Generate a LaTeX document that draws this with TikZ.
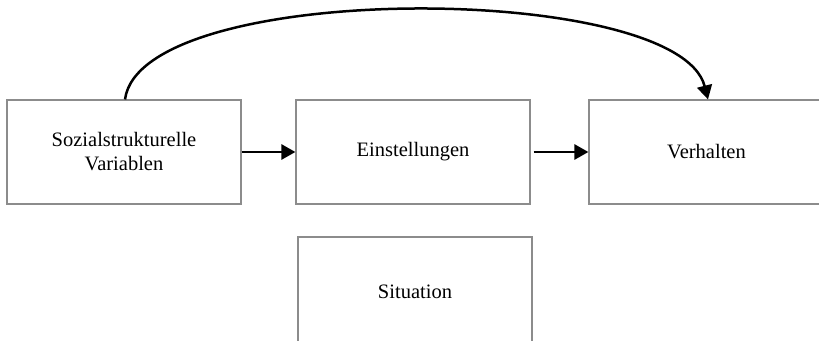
\documentclass[tikz,border=0pt]{standalone}
\usepackage{fontspec}
\setmainfont{Liberation Serif}
\usetikzlibrary{arrows.meta}
\begin{document}
\begin{tikzpicture}[x=1pt,y=-1pt,
  box/.style={draw=black!45, line width=1.2pt, fill=white, inner sep=0pt,
    align=center, font=\fontsize{20.5}{24}\selectfont},
  arr/.style={line width=2.8pt, -{Triangle[length=14pt,width=15pt]}}]
\useasboundingbox (0,0) rectangle (819,340);
\clip (0,0) rectangle (819,340);
\node[box, minimum width=234pt, minimum height=104pt] (b1) at (124,152) {Sozialstrukturelle\\Variablen};
\node[box, minimum width=234pt, minimum height=104pt] (b2) at (413,152) {Einstellungen};
\node[box, minimum width=235pt, minimum height=104pt] (b3) at (706.5,152) {Verhalten};
\node[box, minimum width=234pt, minimum height=110pt] (b4) at (415,292) {Situation};
\draw[arr] (b1.east) -- (b2.west);
\draw[arr, shorten <=3pt] (b2.east) -- (b3.west);
\draw[arr, line width=2.5pt] ([xshift=1pt]b1.north) .. controls +(16,-120) and +(-30,-118) .. ([xshift=1.5pt]b3.north);
\end{tikzpicture}
\end{document}
